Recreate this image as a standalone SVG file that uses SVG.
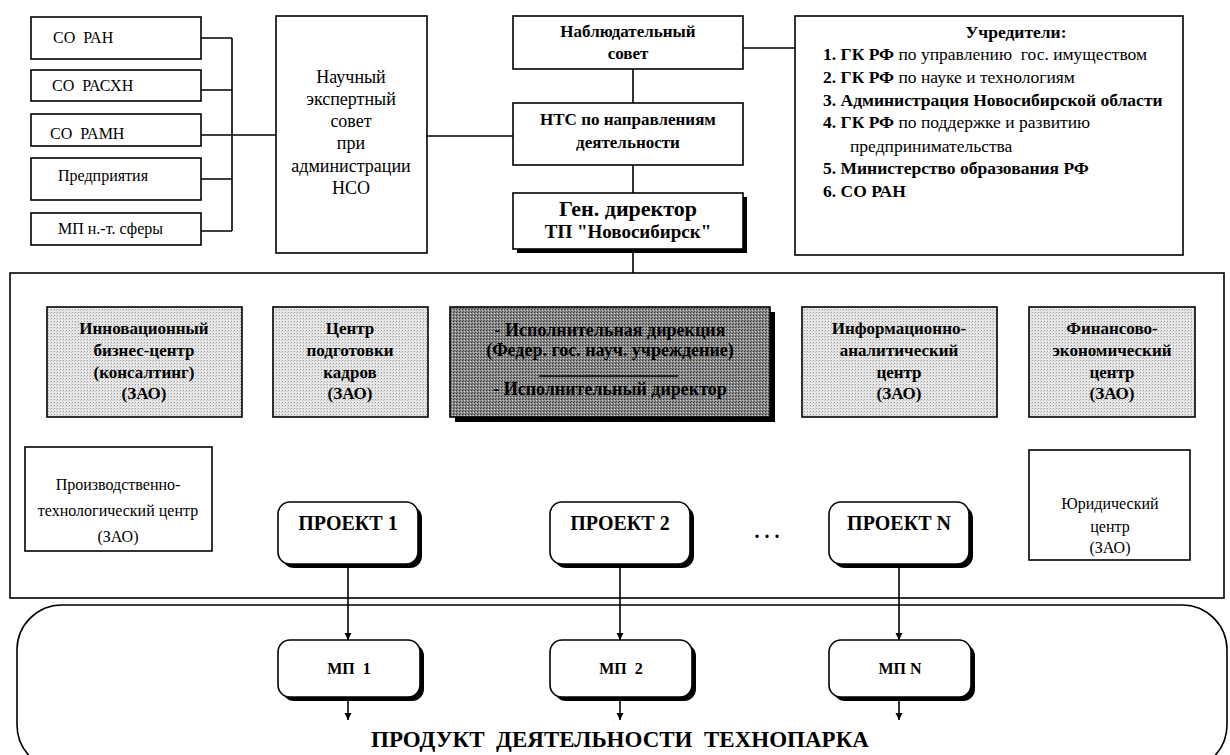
<svg xmlns="http://www.w3.org/2000/svg" width="1230" height="755" viewBox="0 0 1230 755">
  <style>
    .box { fill: #fff; stroke: #000; stroke-width: 1.6; }
    .lt { fill: url(#stippleLight); stroke: #000; stroke-width: 1.6; }
    .dk { fill: url(#stippleDark); stroke: #000; stroke-width: 1.6; }
    .shadow { fill: #000; }
    .ln { fill: none; stroke: #000; stroke-width: 1.6; }
    text { font-family: "Liberation Serif", "Times New Roman", serif; fill: #000; white-space: pre; }
    .n15 { font-size: 16px; }
    .n17 { font-size: 18px; text-anchor: middle; }
    .b16 { font-size: 17px; font-weight: bold; text-anchor: middle; }
    .b17 { font-size: 18px; font-weight: bold; text-anchor: middle; }
    .r { font-size: 17.5px; }
    .rb { font-weight: bold; }
    .c15 { font-size: 16px; text-anchor: middle; }
    .proj { font-size: 20px; font-weight: bold; text-anchor: middle; }
    .mp { font-size: 16px; font-weight: bold; text-anchor: middle; }
  </style>
  <defs>
    <pattern id="stippleLight" width="3" height="3" patternUnits="userSpaceOnUse">
      <rect width="3" height="3" fill="#e8e8e8"/>
      <rect x="0" y="0" width="1" height="1" fill="#9a9a9a"/>
      <rect x="2" y="1" width="1" height="1" fill="#c4c4c4"/>
    </pattern>
    <pattern id="stippleDark" width="3" height="3" patternUnits="userSpaceOnUse">
      <rect width="3" height="3" fill="#8a8a8a"/>
      <rect x="0" y="0" width="1" height="1" fill="#333"/>
      <rect x="2" y="1" width="1" height="1" fill="#d0d0d0"/>
      <rect x="1" y="2" width="1" height="1" fill="#555"/>
    </pattern>
    <marker id="arrow" viewBox="0 0 10 10" refX="10" refY="5" markerWidth="7" markerHeight="9" markerUnits="userSpaceOnUse" orient="auto">
      <path d="M0,0 L10,5 L0,10 Z" fill="#000"/>
    </marker>
  </defs>

  <!-- containers -->
  <g id="technopark-panel">
    <rect class="box" x="10" y="273" width="1214" height="325"/>
  </g>
  <g id="product-area">
    <rect x="17" y="605" width="1210" height="165" rx="45" ry="45" fill="none" stroke="#000" stroke-width="1.6"/>
  </g>

  <!-- connectors -->
  <g id="connectors">
    <path class="ln" d="M201,38 H232 M201,90 H232 M201,135 H232 M201,179 H232 M201,231 H232 M232,38 V231 M232,135 H276"/>
    <path class="ln" d="M427,136 H513"/>
    <path class="ln" d="M743,48 H795"/>
    <path class="ln" d="M633,69 V103 M633,165 V193 M633,249 V273"/>
    <path class="ln" d="M348,566 V640" marker-end="url(#arrow)"/>
    <path class="ln" d="M620,566 V640" marker-end="url(#arrow)"/>
    <path class="ln" d="M899,566 V640" marker-end="url(#arrow)"/>
    <path class="ln" d="M348,700 V720" marker-end="url(#arrow)"/>
    <path class="ln" d="M620,700 V720" marker-end="url(#arrow)"/>
    <path class="ln" d="M899,700 V720" marker-end="url(#arrow)"/>
  </g>

  <!-- left column -->
  <g id="so-ran">
    <rect class="box" x="31" y="17" width="170" height="42"/>
    <text class="n15" x="53" y="43">СО  РАН</text>
  </g>
  <g id="so-rashn">
    <rect class="box" x="31" y="70" width="170" height="31"/>
    <text class="n15" x="52" y="91">СО  РАСХН</text>
  </g>
  <g id="so-ramn">
    <rect class="box" x="31" y="114" width="170" height="32"/>
    <text class="n15" x="50" y="139">СО  РАМН</text>
  </g>
  <g id="enterprises">
    <rect class="box" x="31" y="158" width="170" height="42"/>
    <text class="n15" x="58" y="181">Предприятия</text>
  </g>
  <g id="small-firms">
    <rect class="box" x="31" y="213" width="170" height="32"/>
    <text class="n15" x="58" y="234">МП н.-т. сферы</text>
  </g>

  <g id="expert-council">
    <rect class="box" x="276" y="16" width="151" height="237"/>
    <text class="n17" x="351" y="83">Научный</text>
    <text class="n17" x="351" y="105">экспертный</text>
    <text class="n17" x="351" y="127">совет</text>
    <text class="n17" x="351" y="149">при</text>
    <text class="n17" x="351" y="172">администрации</text>
    <text class="n17" x="351" y="194">НСО</text>
  </g>

  <!-- central column -->
  <g id="supervisory-board">
    <rect class="box" x="513" y="16" width="230" height="53"/>
    <text class="b16" x="628" y="37">Наблюдательный</text>
    <text class="b16" x="628" y="59">совет</text>
  </g>
  <g id="nts">
    <rect class="box" x="513" y="103" width="230" height="62"/>
    <text class="b16" x="628" y="125">НТС по направлениям</text>
    <text class="b16" x="628" y="148">деятельности</text>
  </g>
  <g id="general-director">
    <rect class="shadow" x="517" y="197" width="230" height="56"/>
    <rect class="box" x="513" y="193" width="230" height="56"/>
    <text x="628" y="216" font-size="22" font-weight="bold" text-anchor="middle">Ген. директор</text>
    <text x="628" y="238" font-size="19" font-weight="bold" text-anchor="middle">ТП "Новосибирск"</text>
  </g>

  <!-- founders -->
  <g id="founders">
    <rect class="box" x="795" y="16" width="388" height="239"/>
    <text class="r rb" x="1016" y="38" text-anchor="middle">Учредители:</text>
    <text class="r" x="823" y="60"><tspan class="rb">1. ГК РФ</tspan> по управлению  гос. имуществом</text>
    <text class="r" x="823" y="83"><tspan class="rb">2. ГК РФ</tspan> по науке и технологиям</text>
    <text class="r rb" x="823" y="106">3. Администрация Новосибирской области</text>
    <text class="r" x="823" y="128"><tspan class="rb">4. ГК РФ</tspan> по поддержке и развитию</text>
    <text class="r" x="850" y="152">предпринимательства</text>
    <text class="r rb" x="823" y="174">5. Министерство образования РФ</text>
    <text class="r rb" x="823" y="197">6. СО РАН</text>
  </g>

  <!-- technopark units -->
  <g id="innovation-center">
    <rect class="lt" x="47" y="307" width="195" height="110"/>
    <text class="b16" x="144" y="334">Инновационный</text>
    <text class="b16" x="144" y="356">бизнес-центр</text>
    <text class="b16" x="144" y="378">(консалтинг)</text>
    <text class="b16" x="144" y="399">(ЗАО)</text>
  </g>
  <g id="training-center">
    <rect class="lt" x="273" y="307" width="155" height="110"/>
    <text class="b16" x="350" y="334">Центр</text>
    <text class="b16" x="350" y="356">подготовки</text>
    <text class="b16" x="350" y="378">кадров</text>
    <text class="b16" x="350" y="399">(ЗАО)</text>
  </g>
  <g id="executive-directorate">
    <rect class="shadow" x="455" y="312" width="320" height="110"/>
    <rect class="dk" x="450" y="307" width="320" height="110"/>
    <text class="b17" x="610" y="336">- Исполнительная дирекция</text>
    <text class="b17" x="610" y="356">(Федер. гос. науч. учреждение)</text>
    <path d="M539,376 H678" stroke="#000" stroke-width="1.5"/>
    <text class="b17" x="610" y="395">- Исполнительный директор</text>
  </g>
  <g id="info-center">
    <rect class="lt" x="802" y="307" width="195" height="110"/>
    <text class="b16" x="899" y="334">Информационно-</text>
    <text class="b16" x="899" y="356">аналитический</text>
    <text class="b16" x="899" y="378">центр</text>
    <text class="b16" x="899" y="399">(ЗАО)</text>
  </g>
  <g id="finance-center">
    <rect class="lt" x="1029" y="307" width="166" height="110"/>
    <text class="b16" x="1112" y="334">Финансово-</text>
    <text class="b16" x="1112" y="356">экономический</text>
    <text class="b16" x="1112" y="378">центр</text>
    <text class="b16" x="1112" y="399">(ЗАО)</text>
  </g>
  <g id="production-center">
    <rect class="box" x="25" y="447" width="187" height="104"/>
    <text class="c15" x="118" y="490">Производственно-</text>
    <text class="c15" x="118" y="516">технологический центр</text>
    <text class="c15" x="118" y="542">(ЗАО)</text>
  </g>
  <g id="legal-center">
    <rect class="box" x="1029" y="450" width="161" height="110"/>
    <text class="c15" x="1110" y="509">Юридический</text>
    <text class="c15" x="1110" y="532">центр</text>
    <text class="c15" x="1110" y="553">(ЗАО)</text>
  </g>

  <!-- projects -->
  <g id="project-1">
    <rect class="shadow" x="282" y="506" width="140" height="62" rx="12"/>
    <rect class="box" x="278" y="502" width="140" height="62" rx="12"/>
    <text class="proj" x="348" y="530">ПРОЕКТ 1</text>
  </g>
  <g id="project-2">
    <rect class="shadow" x="554" y="506" width="140" height="62" rx="12"/>
    <rect class="box" x="550" y="502" width="140" height="62" rx="12"/>
    <text class="proj" x="620" y="530">ПРОЕКТ 2</text>
  </g>
  <g id="ellipsis">
    <text x="767" y="538" font-size="20" font-weight="bold" text-anchor="middle">. . .</text>
  </g>
  <g id="project-n">
    <rect class="shadow" x="833" y="506" width="140" height="62" rx="12"/>
    <rect class="box" x="829" y="502" width="140" height="62" rx="12"/>
    <text class="proj" x="899" y="530">ПРОЕКТ N</text>
  </g>

  <!-- small enterprises -->
  <g id="mp-1">
    <rect class="shadow" x="282" y="644" width="142" height="57" rx="12"/>
    <rect class="box" x="278" y="640" width="142" height="57" rx="12"/>
    <text class="mp" x="349" y="674">МП  1</text>
  </g>
  <g id="mp-2">
    <rect class="shadow" x="554" y="644" width="142" height="57" rx="12"/>
    <rect class="box" x="550" y="640" width="142" height="57" rx="12"/>
    <text class="mp" x="621" y="674">МП  2</text>
  </g>
  <g id="mp-n">
    <rect class="shadow" x="833" y="644" width="142" height="57" rx="12"/>
    <rect class="box" x="829" y="640" width="142" height="57" rx="12"/>
    <text class="mp" x="900" y="674">МП N</text>
  </g>

  <g id="product-label">
    <text x="620" y="747" font-size="23" font-weight="bold" text-anchor="middle">ПРОДУКТ  ДЕЯТЕЛЬНОСТИ  ТЕХНОПАРКА</text>
  </g>
</svg>
